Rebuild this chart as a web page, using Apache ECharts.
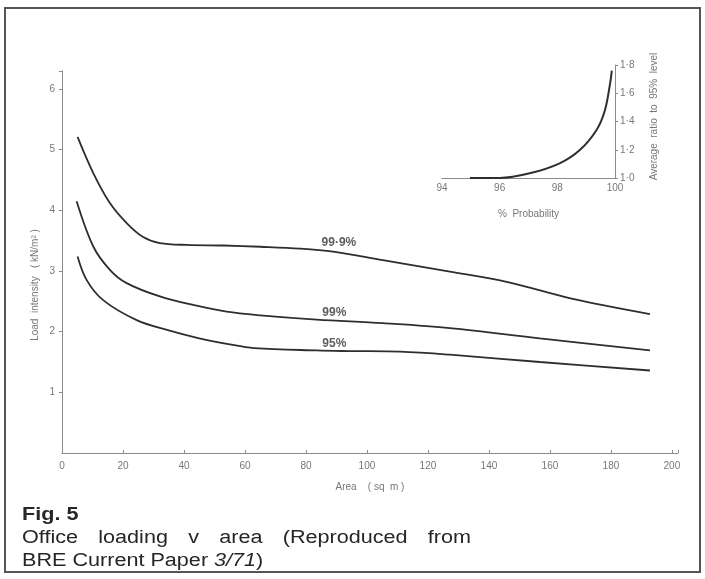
<!DOCTYPE html>
<html>
<head>
<meta charset="utf-8">
<script src="https://cdn.jsdelivr.net/npm/echarts@6/dist/echarts.min.js"></script>
<style>
html,body{margin:0;padding:0;background:#fff;}
#c{width:705px;height:579px;}
</style>
</head>
<body>
<div id="c"></div>
<script>
// Main chart data: area (sq m) vs load intensity (kN/m2)
const area999 = [5.1, 10.3, 15.7, 21.2, 26.6, 32.1, 41, 53, 65, 78, 88.9, 105.2, 127.2, 145.8, 167.5, 192.8];
const load999 = [5.21, 4.61, 4.12, 3.79, 3.56, 3.46, 3.43, 3.42, 3.40, 3.37, 3.32, 3.18, 2.99, 2.82, 2.54, 2.29];
const area99 = [4.8, 10.3, 15.7, 21.2, 32.1, 43, 54, 65, 83.5, 105.2, 127.2, 156.7, 192.8];
const load99 = [4.15, 3.40, 3.02, 2.80, 2.58, 2.44, 2.33, 2.27, 2.20, 2.14, 2.06, 1.89, 1.69];
const area95 = [5.1, 8.1, 13.5, 24.5, 35, 45, 55, 63, 83.5, 94.4, 110.8, 127.2, 156.7, 192.8];
const load95 = [3.24, 2.85, 2.52, 2.19, 2.02, 1.89, 1.79, 1.73, 1.69, 1.68, 1.67, 1.62, 1.50, 1.36];
const curveLabels = ['99·9%', '99%', '95%'];
const labelArea = [90.8, 89.3, 89.3];
const labelLoad = [3.46, 2.31, 1.81];
// Inset data: % probability vs average ratio to 95% level
const probX = [94.97, 96.0, 97.04, 98.08, 98.78, 99.36, 99.65, 99.83, 99.89];
const ratioY = [1.0, 1.0, 1.033, 1.104, 1.198, 1.34, 1.48, 1.67, 1.76];

const zip = (a, b) => a.map((v, i) => [v, b[i]]);
const dot = v => String(v.toFixed(1)).replace('.', '·');
const axisCol = '#8a8a8a';
const labCol = '#777';
const lineCol = '#2e2e2e';
const capCol = '#262626';
const F = 'Liberation Sans';

const chart = echarts.init(document.getElementById('c'), null, {renderer: 'canvas'});

// caption layout (justified second line)
const capLeft = 22, capRight = 471, capScale = 1.2, capFont = '18px "Liberation Sans"';
const words = ['Office', 'loading', 'v', 'area', '(Reproduced', 'from'];
const ctx = document.createElement('canvas').getContext('2d');
ctx.font = capFont;
const widths = words.map(w => ctx.measureText(w).width * capScale);
const gap = (capRight - capLeft - widths.reduce((a, b) => a + b, 0)) / (words.length - 1);

const graphics = [
  {type: 'rect', shape: {x: 5, y: 8, width: 695, height: 564}, style: {fill: 'none', stroke: '#555', lineWidth: 2}, z: 0},
  {type: 'text', x: 35, y: 285, rotation: Math.PI / 2, style: {text: 'Load  intensity   ( kN/m² )', font: '10px "Liberation Sans"', fill: labCol, textAlign: 'center', textVerticalAlign: 'middle'}},
  {type: 'text', x: capLeft, y: 524, scaleX: capScale, style: {text: 'Fig. 5', font: 'bold 18px "Liberation Sans"', fill: capCol, textVerticalAlign: 'bottom'}},
  {type: 'text', x: capLeft, y: 570, scaleX: capScale, style: {
    text: '{n|BRE Current Paper }{i|3/71}{n|)}',
    rich: {n: {font: capFont, fill: capCol}, i: {font: 'italic 18px "Liberation Sans"', fill: capCol}},
    textVerticalAlign: 'bottom'}}
];
let cx = capLeft;
words.forEach((w, i) => {
  graphics.push({type: 'text', x: cx, y: 547, scaleX: capScale, style: {text: w, font: capFont, fill: capCol, textVerticalAlign: 'bottom'}});
  cx += widths[i] + gap;
});

const mainSeries = (d) => ({
  type: 'line', xAxisIndex: 0, yAxisIndex: 0, data: d, smooth: 0.35, showSymbol: false,
  lineStyle: {color: lineCol, width: 1.8}, animation: false, silent: true
});

chart.setOption({
  animation: false,
  backgroundColor: '#fff',
  textStyle: {fontFamily: F},
  grid: [
    {left: 62, right: 27, top: 70.8, bottom: 126},
    {left: 442, right: 90, top: 65, bottom: 401}
  ],
  xAxis: [
    {
      gridIndex: 0, type: 'value', min: 0, max: 202, interval: 20,
      axisLine: {show: true, lineStyle: {color: axisCol, width: 1}},
      axisTick: {show: true, inside: true, length: 3, lineStyle: {color: axisCol}},
      splitLine: {show: false},
      axisLabel: {color: labCol, fontSize: 10, margin: 8, fontFamily: F,
        formatter: v => (v % 20 === 0 && v <= 200) ? String(v) : ''},
      name: 'Area    ( sq  m )', nameLocation: 'middle', nameGap: 29,
      nameTextStyle: {color: labCol, fontSize: 10, fontFamily: F}
    },
    {
      gridIndex: 1, type: 'value', min: 94, max: 100, interval: 2,
      axisLine: {show: true, lineStyle: {color: axisCol, width: 1}},
      axisTick: {show: false},
      splitLine: {show: false},
      axisLabel: {color: labCol, fontSize: 10, margin: 5, fontFamily: F},
      name: '%  Probability', nameLocation: 'middle', nameGap: 31,
      nameTextStyle: {color: labCol, fontSize: 10, fontFamily: F}
    }
  ],
  yAxis: [
    {
      gridIndex: 0, type: 'value', min: 0, max: 6.3, interval: 1,
      axisLine: {show: true, lineStyle: {color: axisCol, width: 1}},
      axisTick: {show: true, length: 3, lineStyle: {color: axisCol}},
      splitLine: {show: false},
      axisLabel: {color: labCol, fontSize: 10, margin: 7, fontFamily: F, showMinLabel: false,
        formatter: v => (Number.isInteger(v) ? String(v) : '')}
    },
    {
      gridIndex: 1, type: 'value', position: 'right', min: 1.0, max: 1.8, interval: 0.2,
      axisLine: {show: true, lineStyle: {color: axisCol, width: 1}},
      axisTick: {show: true, length: 3, lineStyle: {color: axisCol}},
      splitLine: {show: false},
      axisLabel: {color: labCol, fontSize: 10, margin: 5, fontFamily: F, formatter: v => dot(v)},
      name: 'Average  ratio  to  95%  level', nameLocation: 'middle', nameGap: 34,
      nameTextStyle: {color: labCol, fontSize: 10, fontFamily: F, padding: [0, 0, 0, 10]}
    }
  ],
  series: [
    mainSeries(zip(area999, load999)),
    mainSeries(zip(area99, load99)),
    mainSeries(zip(area95, load95)),
    {
      type: 'scatter', xAxisIndex: 0, yAxisIndex: 0, symbolSize: 0, silent: true,
      data: curveLabels.map((t, i) => ({value: [labelArea[i], labelLoad[i]], name: t})),
      label: {show: true, position: 'inside', formatter: p => p.name, color: '#333', fontSize: 12, fontWeight: 'bold', fontFamily: F}
    },
    {
      type: 'line', xAxisIndex: 1, yAxisIndex: 1, data: zip(probX, ratioY), smooth: 0.35, showSymbol: false,
      lineStyle: {color: lineCol, width: 2}, silent: true
    }
  ],
  graphic: graphics
});
</script>
</body>
</html>
